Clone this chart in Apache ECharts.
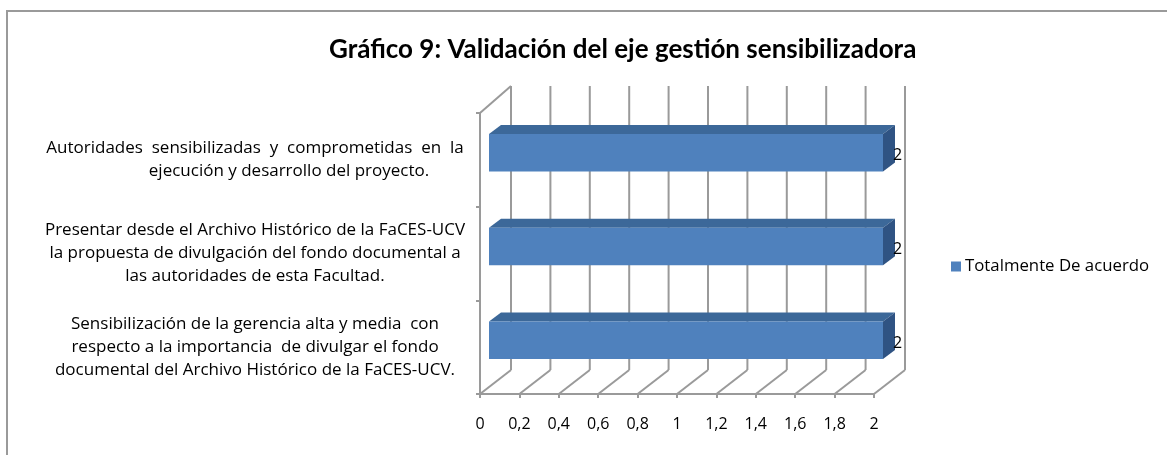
<!DOCTYPE html>
<html>
<head>
<meta charset="utf-8">
<script src="https://cdn.jsdelivr.net/npm/echarts@6/dist/echarts.min.js"></script>
<style>html,body{margin:0;padding:0;background:#fff;}#c{width:1167px;height:455px;}</style>
</head>
<body>
<div id="c"></div>
<script>
const titleText = 'Gráfico 9: Validación del eje gestión sensibilizadora';
const seriesName = 'Totalmente De acuerdo';
const categories = [
  'Autoridades  sensibilizadas  y  comprometidas  en  la\nejecución y desarrollo del proyecto.',
  'Presentar desde el Archivo Histórico de la FaCES-UCV\nla propuesta de divulgación del fondo documental a\nlas autoridades de esta Facultad.',
  'Sensibilización de la gerencia alta y media  con\nrespecto a la importancia  de divulgar el fondo\ndocumental del Archivo Histórico de la FaCES-UCV.'
];
const values = [2, 2, 2];
const xTicks = [0, 0.2, 0.4, 0.6, 0.8, 1, 1.2, 1.4, 1.6, 1.8, 2];

const FONT = '"Open Sans", "Noto Sans", sans-serif';
const GRID = '#9a9a9a';
const DX = 31, DY = -24;

const chart = echarts.init(document.getElementById('c'));
chart.setOption({
  backgroundColor: '#fff',
  animation: false,
  title: {
    text: titleText, left: 324, top: 32,
    textStyle: { fontFamily: 'Lato, sans-serif', fontWeight: 'bold', fontSize: 26, color: '#000' }
  },
  legend: {
    data: [seriesName], left: 946, top: 253, icon: 'rect', itemWidth: 10, itemHeight: 10, itemGap: 5,
    textStyle: { fontFamily: FONT, fontSize: 16.8, color: '#000', padding: [0, 0, 0, -1] }
  },
  graphic: [{
    type: 'rect', shape: { x: 7, y: 11, width: 1200, height: 500 },
    style: { fill: 'none', stroke: '#9a9a9a', lineWidth: 2 }, silent: true
  }],
  grid: { left: 480, right: 293, top: 113, bottom: 61 },
  xAxis: {
    type: 'value', min: 0, max: 2, interval: 0.2,
    axisLine: { show: true, lineStyle: { color: GRID, width: 2 } },
    axisTick: { show: true, length: 4, lineStyle: { color: GRID, width: 2 } },
    splitLine: { show: false },
    axisLabel: { margin: 22, fontFamily: FONT, fontSize: 16, color: '#000',
      formatter: v => String(Math.round(v * 10) / 10).replace('.', ',') }
  },
  yAxis: {
    type: 'category', data: categories, inverse: true,
    axisLine: { show: true, lineStyle: { color: GRID, width: 2 } },
    axisTick: { show: true, length: 4, lineStyle: { color: GRID, width: 2 } },
    axisLabel: {
      align: 'center', margin: 225, fontFamily: FONT, fontSize: 17, color: '#000', lineHeight: 23,
      formatter: function (value, idx) {
        const lines = value.split('\n');
        return lines.map((l, j) => (idx === 0 && j === 1) ? '{s|' + l + '}' : '{n|' + l + '}').join('\n');
      },
      rich: {
        n: { fontFamily: FONT, fontSize: 17, color: '#000', lineHeight: 23 },
        s: { fontFamily: FONT, fontSize: 17, color: '#000', lineHeight: 23, padding: [0, 0, 0, 68] }
      }
    }
  },
  series: [
    {
      type: 'custom', name: 'walls', silent: true, clip: false, z: 1,
      data: [[0, 0]],
      renderItem: function (params, api) {
        const cs = params.coordSys;
        const yF = cs.y + cs.height, yTop = cs.y;
        const ch = [];
        const ls = { stroke: GRID, lineWidth: 2 };
        xTicks.forEach(t => {
          const fx = api.coord([t, 0])[0];
          ch.push({ type: 'line', shape: { x1: fx + DX, y1: yF + DY, x2: fx + DX, y2: yTop + DY - 3 }, style: ls });
          ch.push({ type: 'line', shape: { x1: fx, y1: yF, x2: fx + DX, y2: yF + DY }, style: ls });
        });
        ch.push({ type: 'line', shape: { x1: cs.x, y1: yTop, x2: cs.x + DX, y2: yTop + DY - 3 }, style: ls });
        return { type: 'group', children: ch };
      }
    },
    {
      type: 'custom', name: seriesName, clip: false, z: 2,
      itemStyle: { color: '#4F81BD' },
      encode: { x: 0, y: 1 },
      data: values.map((v, i) => [v, i]),
      renderItem: function (params, api) {
        const v = api.value(0), cat = api.value(1);
        const p0 = api.coord([0, cat]);
        const p1 = api.coord([v, cat]);
        const band = api.size([0, 1])[1];
        const h = band * 0.4;
        const ox = 9, oy = -7, dx = 12, dy = -9;
        const xL = p0[0] + ox, xR = p1[0] + ox;
        const yT = p0[1] + oy - h / 2, yB = yT + h;
        return {
          type: 'group',
          children: [
            { type: 'polygon', shape: { points: [[xL, yT], [xR, yT], [xR + dx, yT + dy], [xL + dx, yT + dy]] }, style: { fill: '#3C6899' } },
            { type: 'polygon', shape: { points: [[xR, yT], [xR + dx, yT + dy], [xR + dx, yB + dy], [xR, yB]] }, style: { fill: '#2F5383' } },
            { type: 'rect', shape: { x: xL, y: yT, width: xR - xL, height: h }, style: { fill: '#4F81BD' } },
            { type: 'text', x: xR + 10, y: yT + h / 2 + 3, style: { text: String(v), fill: '#000', font: '16px ' + FONT, verticalAlign: 'middle', align: 'left' } }
          ]
        };
      }
    }
  ]
});
</script>
</body>
</html>
